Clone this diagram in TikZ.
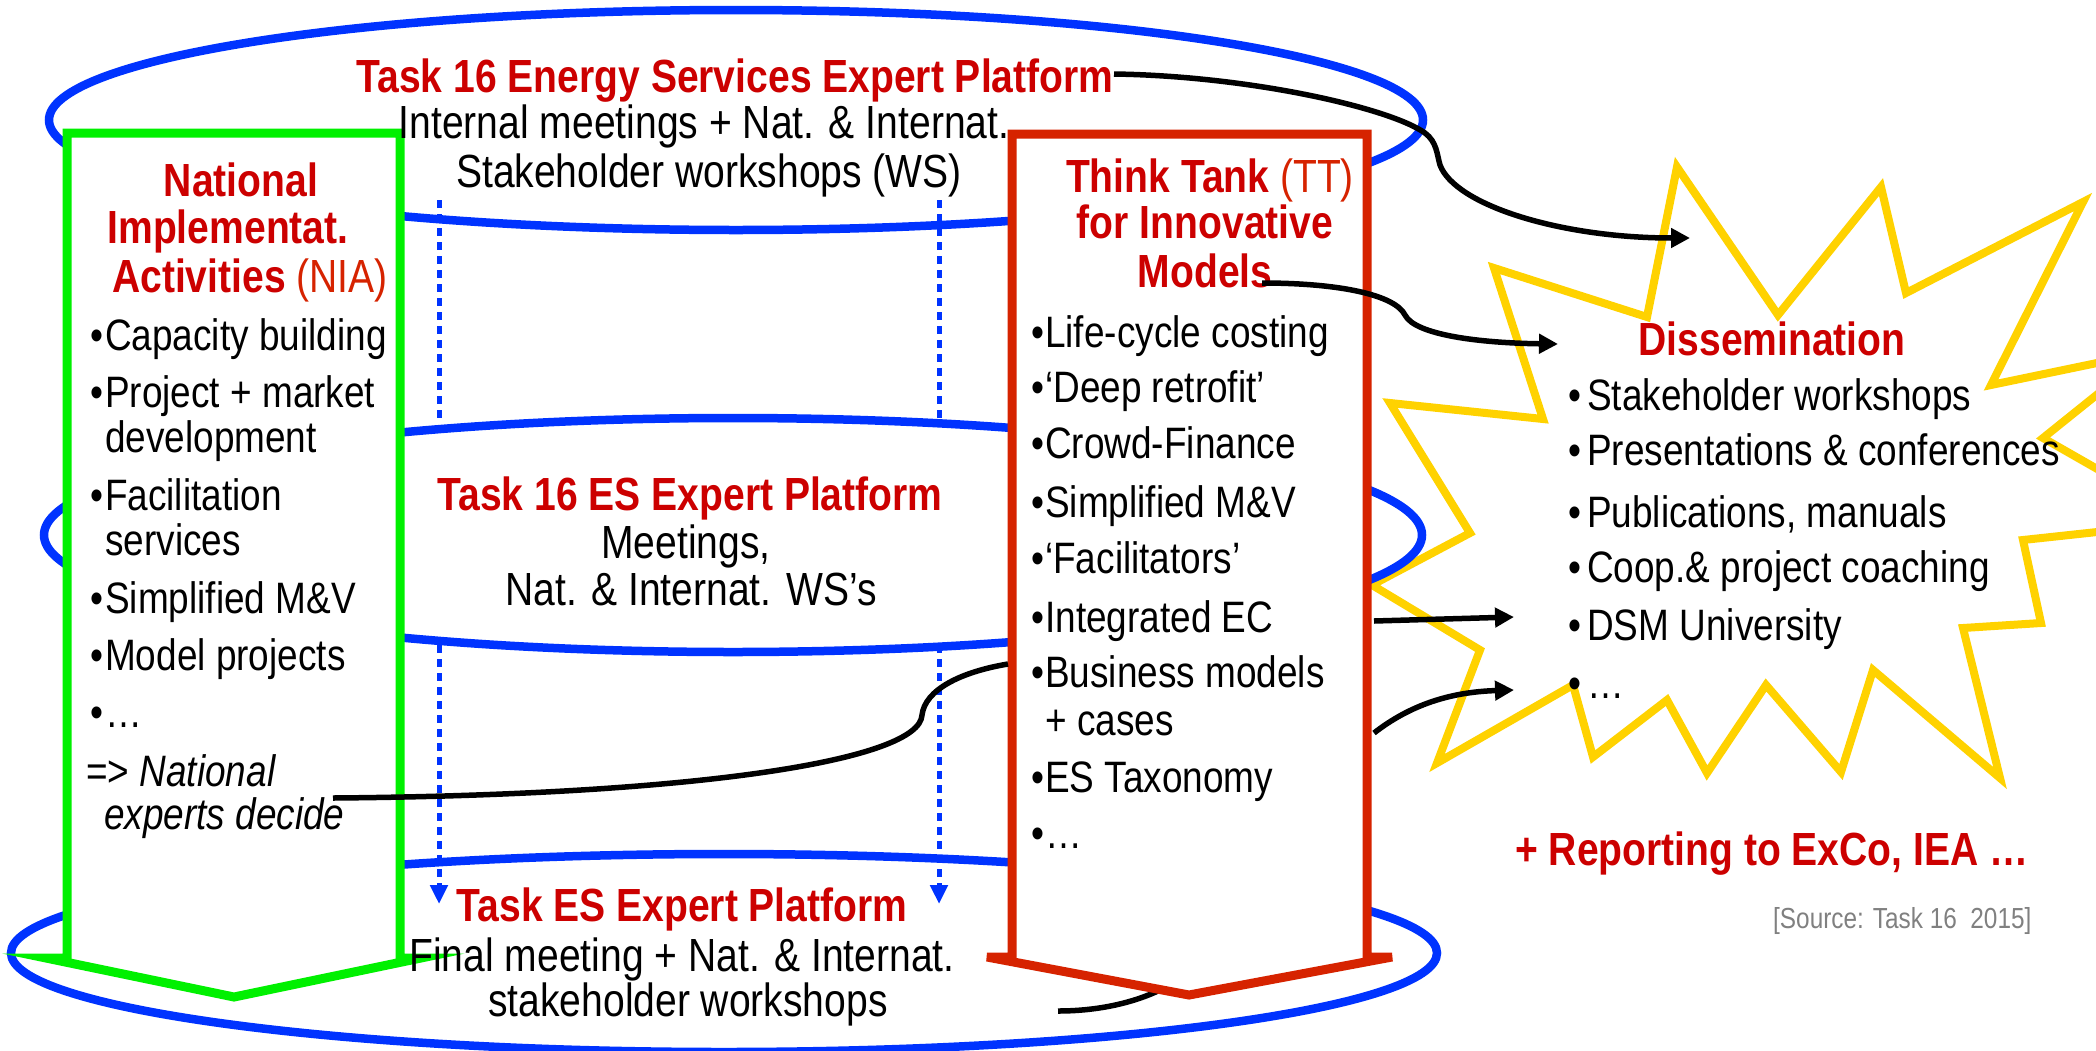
\documentclass[tikz,border=0pt]{standalone}
\usepackage{fontspec}
\setmainfont{Liberation Sans}[FakeStretch=0.84]
\usetikzlibrary{arrows.meta}
\definecolor{eblue}{RGB}{0,51,255}
\definecolor{egreen}{RGB}{0,240,0}
\definecolor{boxred}{RGB}{214,35,0}
\definecolor{titlered}{RGB}{204,0,0}
\definecolor{burst}{RGB}{255,210,0}
\definecolor{srcgray}{RGB}{128,128,128}
\newcommand\flist{\fontsize{44}{45}\selectfont}
\newcommand\fplat{\fontsize{46.5}{48}\selectfont}
\newcommand\ftitle{\fontsize{46.5}{48}\selectfont\bfseries}
\newcommand\fsrc{\fontsize{29}{30}\selectfont}
\newcommand\blt[1]{\makebox[#1][l]{•}}
\tikzset{
  ell/.style={draw=eblue, line width=8.5pt},
  burstline/.style={draw=burst, line width=8pt, line join=miter},
  greenbox/.style={draw=egreen, fill=white, line width=9pt, line join=miter},
  redbox/.style={draw=boxred, fill=white, line width=9pt, line join=miter},
  conn/.style={draw=black, line width=5.5pt, -{Triangle[length=19pt,width=19pt]}},
  plainconn/.style={draw=black, line width=5.5pt},
  dotline/.style={draw=eblue, line width=5pt, dash pattern=on 8pt off 6pt},
  dotarrow/.style={dotline, -{Triangle[length=19pt,width=17pt]}},
  ttl/.style={inner sep=0pt, font=\ftitle, text=titlered},
  plat/.style={inner sep=0pt, font=\fplat, text=black},
  item/.style={inner sep=0pt, font=\flist, text=black, anchor=base west},
  src/.style={inner sep=0pt, font=\fsrc, text=srcgray}
}
\begin{document}
\begin{tikzpicture}[x=1pt,y=-1pt]
\useasboundingbox (0,0) rectangle (2096,1050);
\clip (0,0) rectangle (2096,1050);

% starburst
\draw[burstline] (1677,167) -- (1778,315) -- (1881,187) -- (1906,293) -- (2083,202)
  -- (1991,385) -- (2150,352) -- (2043,438) -- (2190,522) -- (2023,540) -- (2041,623)
  -- (1963,628) -- (2000,778) -- (1873,670) -- (1841,772) -- (1766,685) -- (1707,773)
  -- (1667,700) -- (1593,757) -- (1573,685) -- (1437,763) -- (1480,650) -- (1372,585)
  -- (1470,533) -- (1390,403) -- (1543,419) -- (1494,268) -- (1647,317) -- cycle;

% platform ellipses
\draw[ell] (736,120) ellipse [x radius=687pt, y radius=110pt];
\draw[ell] (733,535) ellipse [x radius=689pt, y radius=117pt];
\draw[ell] (724,953) ellipse [x radius=713pt, y radius=99pt];

% dotted flows
\coordinate (d1s) at (439,200); \coordinate (d1e) at (439,420);
\coordinate (d2s) at (939,200); \coordinate (d2e) at (939,420);
\coordinate (d3s) at (439,645); \coordinate (d3e) at (439,904);
\coordinate (d4s) at (939,645); \coordinate (d4e) at (939,904);
\draw[dotline] (d1s) -- (d1e);
\draw[dotline] (d2s) -- (d2e);
\draw[dotarrow] (d3s) -- (d3e);
\draw[dotarrow] (d4s) -- (d4e);

% connector hidden under TT arrow
\coordinate (a6s) at (1058,1011); \coordinate (a6e) at (1160,990);
\draw[plainconn] (a6s) .. controls (1100,1011) and (1135,1002) .. (a6e);

% boxes
\draw[greenbox] (67,133) -- (400,133) -- (400,958) -- (421,958) -- (234,997) -- (46,958) -- (67,958) -- cycle;
\draw[redbox] (1012,134) -- (1367,134) -- (1367,957) -- (1392,957) -- (1189,995) -- (987,957) -- (1012,957) -- cycle;

% texts: platforms
\node[ttl, anchor=base] (p1t) at (735,92) {Task 16 Energy Services Expert Platform};
\node[plat, anchor=base] (p1a) at (704,138) {Internal meetings + Nat. \& Internat.};
\node[plat, anchor=base] (p1b) at (709,187) {Stakeholder workshops (WS)};
\node[ttl, anchor=base] (p2t) at (690,510) {Task 16 ES Expert Platform};
\node[plat, anchor=base] (p2a) at (686,558) {Meetings,};
\node[plat, anchor=base] (p2b) at (691,605) {Nat. \& Internat. WS’s};
\node[ttl, anchor=base] (p3t) at (682,921) {Task ES Expert Platform};
\node[plat, anchor=base] (p3a) at (682,971) {Final meeting + Nat. \& Internat.};
\node[plat, anchor=base] (p3b) at (688,1016) {stakeholder workshops};

% NIA
\node[ttl, anchor=base] (n1) at (241,196) {National};
\node[ttl, anchor=base] (n2) at (228,243) {Implementat.};
\node[ttl, anchor=base] (n3) at (250,292) {Activities {\mdseries\color{boxred}(NIA)}};
\node[item] (ni1) at (90,350) {\blt{15pt}Capacity building};
\node[item] (ni2) at (90,407) {\blt{15pt}Project + market};
\node[item] (ni2b) at (105,452) {development};
\node[item] (ni3) at (90,510) {\blt{15pt}Facilitation};
\node[item] (ni3b) at (105,555) {services};
\node[item] (ni4) at (90,613) {\blt{15pt}Simplified M\&V};
\node[item] (ni5) at (90,670) {\blt{15pt}Model projects};
\node[item] (ni6) at (90,727) {\blt{15pt}…};
\node[item] (ni7) at (86,786) {=> \textit{National}};
\node[item] (ni7b) at (104,829) {\textit{experts decide}};

% TT
\node[ttl, anchor=base] (t1) at (1210,192) {Think Tank {\mdseries\color{boxred}(TT)}};
\node[ttl, anchor=base] (t2) at (1205,238) {for Innovative};
\node[ttl, anchor=base] (t3) at (1205,287) {Models};
\node[item] (ti1) at (1031,347) {\blt{14pt}Life-cycle costing};
\node[item] (ti2) at (1031,402) {\blt{14pt}‘Deep retrofit’};
\node[item] (ti3) at (1031,458) {\blt{14pt}Crowd-Finance};
\node[item] (ti4) at (1031,517) {\blt{14pt}Simplified M\&V};
\node[item] (ti5) at (1031,573) {\blt{14pt}‘Facilitators’};
\node[item] (ti6) at (1031,632) {\blt{14pt}Integrated EC};
\node[item] (ti7) at (1031,687) {\blt{14pt}Business models};
\node[item] (ti7b) at (1045,735) {+ cases};
\node[item] (ti8) at (1031,792) {\blt{14pt}ES Taxonomy};
\node[item] (ti9) at (1031,848) {\blt{14pt}…};

% Dissemination
\node[ttl, anchor=base] (d0) at (1772,355) {Dissemination};
\node[item] (di1) at (1568,410) {\blt{19pt}Stakeholder workshops};
\node[item] (di2) at (1568,465) {\blt{19pt}Presentations \& conferences};
\node[item] (di3) at (1568,527) {\blt{19pt}Publications, manuals};
\node[item] (di4) at (1568,582) {\blt{19pt}Coop.\& project coaching};
\node[item] (di5) at (1568,640) {\blt{19pt}DSM University};
\node[item] (di6) at (1568,698) {\blt{19pt}…};

\node[ttl, anchor=base west] (rep) at (1515,865) {+ Reporting to ExCo, IEA …};
\node[src, anchor=base west] (srcn) at (1773,928) {[Source: Task 16\ \ 2015]};

% connectors
\coordinate (a1s) at (1114,74); \coordinate (a1e) at (1690,238);
\coordinate (a2s) at (1262,283); \coordinate (a2e) at (1558,344);
\coordinate (a3s) at (1374,621); \coordinate (a3e) at (1514,617);
\coordinate (a4s) at (1374,733); \coordinate (a4e) at (1514,690);
\coordinate (a5s) at (333,798); \coordinate (a5e) at (1008,664);
\draw[conn] (a1s) .. controls (1250,76) and (1390,108) .. (1425,133)
  .. controls (1437,142) and (1437,155) .. (1440,165)
  .. controls (1455,205) and (1560,238) .. (a1e);
\draw[conn] (a2s) .. controls (1340,283) and (1395,295) .. (1405,315)
  .. controls (1415,335) and (1480,343) .. (a2e);
\draw[conn] (a3s) -- (a3e);
\draw[conn] (a4s) .. controls (1410,705) and (1450,692) .. (a4e);
\draw[plainconn] (a5s) .. controls (700,795) and (920,760) .. (922,715)
  .. controls (925,690) and (960,672) .. (a5e);
\end{tikzpicture}
\end{document}
